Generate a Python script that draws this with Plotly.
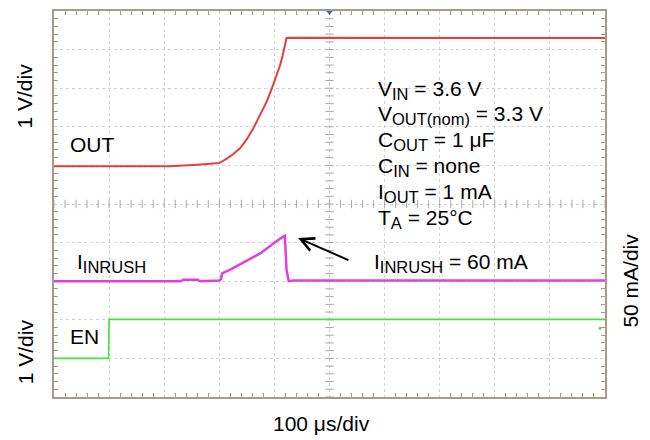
import plotly.graph_objects as go

# ---- data (time in microseconds, amplitude in screen divisions) ----
out_t = [0, 210, 260, 300, 313, 325, 338, 350, 362, 374, 386, 395, 404, 410, 415, 418, 422, 430, 1000]
out_v = [5.98, 5.98, 6.02, 6.06, 6.17, 6.29, 6.45, 6.68, 6.97, 7.29, 7.65, 7.98, 8.34, 8.58, 8.85, 9.03, 9.30, 9.31, 9.30]

inr_t = [0, 230, 235, 260, 265, 300, 303, 305, 320, 338, 355, 374, 397, 410, 419, 422, 426, 435, 1000]
inr_v = [3.00, 3.00, 3.04, 3.04, 3.00, 3.02, 3.05, 3.20, 3.30, 3.45, 3.57, 3.72, 3.97, 4.10, 4.18, 3.30, 3.00, 3.02, 3.02]

en_t = [0, 99, 100, 1000]
en_v = [1.00, 1.00, 2.01, 2.01]

glitch_t = [991]
glitch_v = [1.78]

trigger_t = [500]
trigger_v = [10]

minor_ticks = list(range(0, 1001, 20))
minor_ticks_v = [x / 100 for x in range(0, 1001, 20)]


def sub(s):
    return '<sub><span style="font-size:16.5px">' + s + '</span></sub>'


params = [
    "V" + sub("IN") + " = 3.6 V",
    "V" + sub("OUT(nom)") + " = 3.3 V",
    "C" + sub("OUT") + " = 1 μF",
    "C" + sub("IN") + " = none",
    "I" + sub("OUT") + " = 1 mA",
    "T" + sub("A") + " = 25°C",
]

FONT = "Liberation Sans, Arial, Helvetica, sans-serif"
FS = 21
GRIDC = "#d2d2d2"
FRAMEC = "#a89a8a"

# the page body has an 8px margin: lay out in reference pixels, shifted by it
OFF = 8
W, H = 650 - OFF, 440 - OFF
L, T = 54 - OFF, 9 - OFF
R, B = W - (605 - OFF), H - (397 - OFF)
PW, PH = W - L - R, H - T - B

fig = go.Figure()

# center-line tick marks
fig.add_trace(go.Scatter(x=minor_ticks, y=[5] * len(minor_ticks), mode="markers",
                         marker=dict(symbol="line-ns-open", size=6, color="#a8a8a8",
                                     line=dict(color="#a8a8a8", width=1)),
                         hoverinfo="skip", showlegend=False))
fig.add_trace(go.Scatter(x=[500] * len(minor_ticks_v), y=minor_ticks_v, mode="markers",
                         marker=dict(symbol="line-ew-open", size=6, color="#a8a8a8",
                                     line=dict(color="#a8a8a8", width=1)),
                         hoverinfo="skip", showlegend=False))

fig.add_trace(go.Scatter(x=out_t, y=out_v, mode="lines",
                         line=dict(color="#e2403c", width=2), showlegend=False))
fig.add_trace(go.Scatter(x=inr_t, y=inr_v, mode="lines",
                         line=dict(color="#e040e0", width=2.5), showlegend=False))
fig.add_trace(go.Scatter(x=en_t, y=en_v, mode="lines",
                         line=dict(color="#44e044", width=1.6), showlegend=False))
fig.add_trace(go.Scatter(x=glitch_t, y=glitch_v, mode="markers",
                         marker=dict(color="#44e044", size=3), showlegend=False))
fig.add_trace(go.Scatter(x=trigger_t, y=trigger_v, mode="markers",
                         marker=dict(symbol="triangle-down", color="#2a6ad8", size=8),
                         cliponaxis=False, showlegend=False))

axis_common = dict(showgrid=True, gridcolor=GRIDC, griddash="dot", gridwidth=1,
                   showticklabels=False, zeroline=False, showline=True,
                   linecolor=FRAMEC, linewidth=1.5, mirror="ticks",
                   ticks="inside", ticklen=0, tickcolor=FRAMEC)

fig.update_xaxes(range=[0, 1000], dtick=100,
                 minor=dict(dtick=20, ticks="inside", ticklen=4, tickcolor=FRAMEC, showgrid=False),
                 **axis_common)
fig.update_yaxes(range=[0, 10], dtick=1,
                 minor=dict(dtick=0.2, ticks="inside", ticklen=4, tickcolor=FRAMEC, showgrid=False),
                 **axis_common)


def px(xp):
    return (xp - OFF - L) / PW


def py(yp):
    return (H - B - (yp - OFF)) / PH


ann = []
def text(s, xp, yp, xanchor="left", angle=0):
    ann.append(dict(text=s, x=px(xp), y=py(yp), xref="paper", yref="paper",
                    xanchor=xanchor, yanchor="middle", showarrow=False, textangle=angle,
                    font=dict(family=FONT, size=FS, color="black")))

text("OUT", 68, 143)
text("I" + sub("INRUSH"), 75, 262)
text("EN", 68, 336)

param_y = [88, 114, 140, 166, 192, 218]
for s, yy in zip(params, param_y):
    text(s, 376, yy)
text("I" + sub("INRUSH") + " = 60 mA", 372, 262)

text("1 V/div", 25, 95, xanchor="center", angle=-90)
text("1 V/div", 25, 352, xanchor="center", angle=-90)
text("50 mA/div", 631, 280, xanchor="center", angle=-90)
text("100 μs/div", 321, 424, xanchor="center")

# arrow pointing at the inrush peak
ann.append(dict(x=443, y=4.12, ax=537, ay=3.53, xref="x", yref="y", axref="x", ayref="y",
                text="", showarrow=True, arrowhead=5, arrowsize=1.3, arrowwidth=2, arrowcolor="black"))

fig.update_layout(width=W, height=H, margin=dict(l=L, r=R, t=T, b=B),
                  paper_bgcolor="white", plot_bgcolor="white", annotations=ann)

fig.write_html("out.html")
